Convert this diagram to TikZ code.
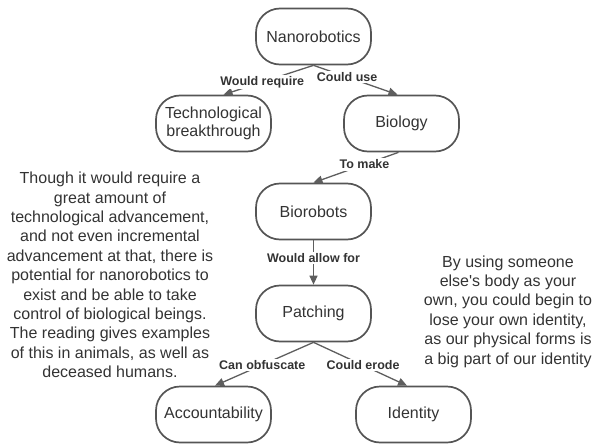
\documentclass[tikz,border=0pt]{standalone}
\usepackage{fontspec}
\setmainfont{Liberation Sans}
\usetikzlibrary{arrows.meta}
\definecolor{ink}{HTML}{333333}
\definecolor{edge}{HTML}{555555}
\definecolor{wire}{HTML}{5E5E5E}
\begin{document}
\begin{tikzpicture}[x=1pt,y=-1pt,
  concept/.style={draw=edge,line width=1.7pt,rounded corners=24pt,
    minimum width=115pt,minimum height=56pt,inner sep=2pt,align=center,
    text=ink,font=\fontsize{16}{17.5}\selectfont},
  link/.style={draw=wire,line width=1.3pt,-{Triangle[length=9pt,width=8pt]}},
  tag/.style={fill=white,inner sep=1.5pt,text=ink,
    font=\fontsize{12.5}{14}\selectfont\bfseries},
  note/.style={align=center,text=ink,font=\fontsize{16}{19.4}\selectfont}]
\useasboundingbox (0,0) rectangle (594,444);

% concept nodes
\node[concept] (nano) at (313.5,36.5) {Nanorobotics};
\node[concept] (tech) at (213.5,123.5) {Technological\\breakthrough};
\node[concept] (bio)  at (401.5,123.5) {Biology};
\node[concept] (brob) at (313.5,211.5) {Biorobots};
\node[concept] (patch) at (313.5,313.5) {Patching};
\node[concept] (acc) at (213.5,414.5) {Accountability};
\node[concept] (ident) at (413.5,414.5) {Identity};

% labelled connectors
\draw[link] (nano.south) -- node[tag,pos=0.57] {Would require} ([xshift=10pt]tech.north);
\draw[link] (nano.south) -- node[tag,pos=0.40] {Could use} ([xshift=-4pt]bio.north);
\draw[link] ([xshift=-3pt]bio.south) -- node[tag,pos=0.40] {To make} (brob.north);
\draw[link] (brob.south) -- node[tag,pos=0.40] {Would allow for} (patch.north);
\draw[link] (patch.south) -- node[tag,pos=0.52] {Can obfuscate} ([xshift=1.5pt]acc.north);
\draw[link] (patch.south) -- node[tag,pos=0.53] {Could erode} ([xshift=-6.5pt]ident.north);

% side notes
\node[note] (left) at (110,275) {Though it would require a\\great amount of\\technological advancement,\\and not even incremental\\advancement at that, there is\\potential for nanorobotics to\\exist and be able to take\\control of biological beings.\\The reading gives examples\\of this in animals, as well as\\deceased humans.};
\node[note] (right) at (508,311.5) {By using someone\\else\textquotesingle s body as your\\own, you could begin to\\lose your own identity,\\as our physical forms is\\a big part of our identity};
\end{tikzpicture}
\end{document}
